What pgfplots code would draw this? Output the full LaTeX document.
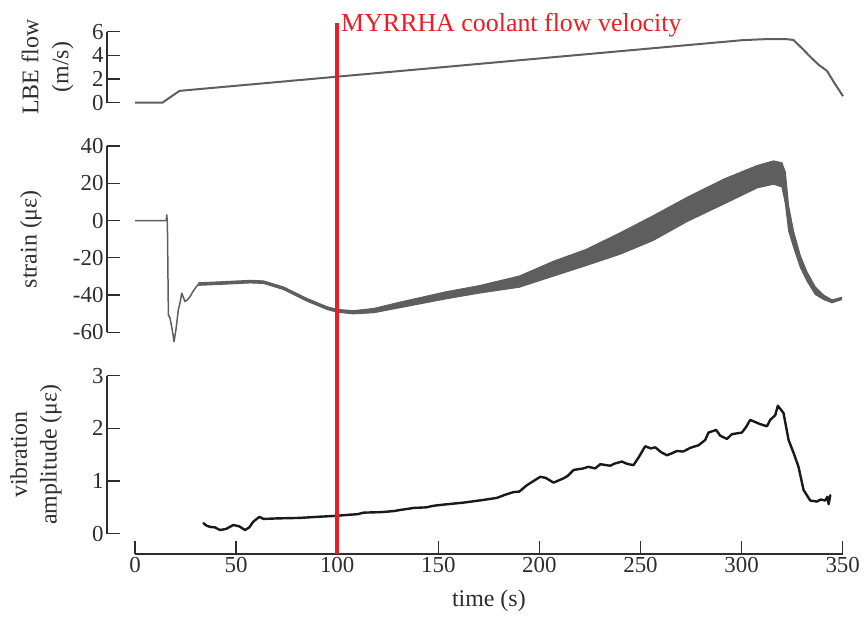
\documentclass[border=0pt]{standalone}
\usepackage{pgfplots}
\pgfplotsset{compat=1.18}
\usepgfplotslibrary{fillbetween}
\usepackage{fontspec}
\setmainfont{Liberation Serif}
\definecolor{lgray}{RGB}{94,94,94}
\definecolor{myred}{RGB}{237,28,36}
\definecolor{axc}{RGB}{45,45,45}
\pgfplotsset{
  panel/.style={scale only axis, width=736bp, xmin=-13.85, xmax=350,
    axis x line=none, axis y line=left,
    axis line style={-, axc, line width=1.4bp},
    tick align=inside, major tick length=13bp,
    tick style={axc, line width=1.4bp},
    clip=false,
    yticklabel style={font=\fontsize{23}{23}\selectfont, text=axc},
    /pgf/number format/assume math mode=true,
    ylabel style={font=\fontsize{24}{30}\selectfont, align=center, text=axc, anchor=center}},
}
\begin{document}
\begin{tikzpicture}[line join=round]
% ---- top panel: LBE flow
\begin{axis}[panel, height=71bp, at={(107bp,516.3bp)}, anchor=south west,
  ymin=0, ymax=6, ytick={0,2,4,6},
  ylabel={LBE flow\\(m/s)}, ylabel style={at={(axis description cs:-0.0808,0.5)}}]
\addplot[lgray, line width=2bp, line join=round] coordinates {
(0,0) (13.5,0) (22,1.0) (100,2.2) (200,3.74) (300,5.28) (310,5.36) (318,5.38)
(322,5.37) (325.5,5.30) (330,4.55) (334,3.85) (338,3.2) (342,2.7) (346,1.6) (350,0.55)};
\end{axis}
% ---- middle panel: strain
\begin{axis}[panel, height=186.3bp, at={(107bp,286.7bp)}, anchor=south west,
  ymin=-60, ymax=40, ytick={-60,-40,-20,0,20,40},
  ylabel={strain (με)}, ylabel style={at={(axis description cs:-0.1033,0.5)}}]
\addplot[lgray, line width=1.5bp, line join=round] coordinates {
(0,0) (15.4,0) (15.7,3) (16.0,-1) (16.5,-50.7) (17.3,-52.4) (18.3,-58) (19.3,-65)
(20.3,-58) (21.4,-48) (22.3,-44) (23.1,-39) (24.0,-41.5) (24.7,-43.5) (26,-42.5)
(27.2,-40.8) (29,-37.5) (31.3,-34.1)};
\addplot[lgray, line width=1bp, line join=round, name path=U] coordinates {
(31.3,-33.4) (40,-33.0) (57,-32.1) (63.5,-32.4) (73.3,-35.6) (85,-41.8) (95,-46.3)
(100,-47.7) (108,-48.4) (118,-47.2) (131,-43.8) (154,-38.2) (170,-35.0) (190,-29.8)
(207,-21.8) (223,-15.5) (240,-6.5) (256,2.5) (273,12.5) (291,22.2) (307.5,29.5)
(315.7,32.0) (319.8,31.0) (321.5,26.0) (323.1,8.0) (325.6,-6.0) (328.9,-18.8)
(332.2,-27.6) (336.3,-35.6) (340.4,-40.0) (344.6,-42.6) (349.5,-41.2)};
\addplot[lgray, line width=1bp, line join=round, name path=L] coordinates {
(31.3,-34.8) (40,-34.4) (57,-33.5) (63.5,-33.8) (73.3,-37.0) (85,-43.3) (95,-47.8)
(100,-49.2) (108,-50.1) (118,-49.5) (131,-46.8) (154,-42.0) (170,-39.0) (190,-35.8)
(207,-29.8) (223,-24.2) (240,-18.0) (256,-10.8) (273,-0.5) (291,8.8) (307.5,17.5)
(315.7,19.5) (319.8,18.0) (321.5,9.0) (323.1,-5.5) (325.6,-14.5) (328.9,-25.2)
(332.2,-32.5) (336.3,-39.7) (340.4,-42.4) (344.6,-44.2) (349.5,-42.4)};
\addplot[lgray] fill between[of=U and L];
\end{axis}
% ---- bottom panel: vibration amplitude
\begin{axis}[panel, height=158bp, at={(107bp,85.3bp)}, anchor=south west,
  ymin=0, ymax=3, ytick={0,1,2,3},
  ylabel={vibration\\amplitude (με)}, ylabel style={at={(axis description cs:-0.0965,0.5)}}]
\addplot[black!90, line width=2.4bp, line join=round, line cap=round] coordinates {
(33.8,0.2) (35.5,0.15) (37.1,0.13) (39.5,0.12) (42,0.07) (45,0.09) (48.6,0.165)
(51.5,0.14) (54.4,0.07) (56.5,0.12) (58.5,0.23) (61.5,0.32) (63.5,0.28) (70,0.29)
(81.6,0.30) (90,0.32) (99.7,0.34) (106,0.36) (110,0.37) (113,0.40) (122,0.41)
(128,0.43) (131,0.45) (138,0.49) (144,0.50) (147.5,0.53) (152,0.55) (162.4,0.59)
(172,0.64) (178.9,0.68) (183,0.74) (187.1,0.79) (190,0.80) (193.7,0.92) (197,1.0)
(200.3,1.08) (203,1.06) (206.9,0.97) (211.8,1.05) (214,1.10) (216.8,1.21)
(221.7,1.24) (224,1.27) (227.5,1.24) (230,1.32) (234.9,1.29) (237,1.33) (240.7,1.37)
(243,1.33) (246.4,1.30) (249,1.45) (252.2,1.66) (255,1.62) (257.2,1.64) (260,1.55)
(262.9,1.49) (265,1.52) (267.9,1.57) (271,1.56) (274.5,1.63) (278.6,1.68)
(281.9,1.78) (283.5,1.92) (287.3,1.97) (289.3,1.86) (292.6,1.80) (295.1,1.89)
(300,1.92) (302,2.02) (304.1,2.16) (309.1,2.08) (312.4,2.04) (314,2.16)
(316.5,2.25) (317.8,2.43) (320.6,2.29) (323.1,1.78) (325.6,1.53) (328,1.27)
(330.5,0.83) (333.8,0.63) (337.1,0.61) (339,0.65) (341.2,0.63) (342.3,0.70)
(342.9,0.56) (343.7,0.73)};
\end{axis}
% ---- shared x axis + reference line
\begin{axis}[scale only axis, width=707.7bp, height=10bp, at={(135bp,65bp)}, anchor=south west,
  xmin=0, xmax=350, ymin=0, ymax=1, axis x line=bottom, axis y line=none,
  axis line style={-, axc, line width=1.4bp},
  tick align=inside, major tick length=13bp, tick style={axc, line width=1.4bp},
  xtick={0,50,...,350}, clip=false,
  xticklabel style={font=\fontsize{23}{23}\selectfont, text=axc},
  /pgf/number format/assume math mode=true,
  xlabel={time (s)},
  xlabel style={font=\fontsize{24}{30}\selectfont, text=axc, at={(axis description cs:0.5,0)}, anchor=base, yshift=-52bp}]
\addplot[myred, line width=4bp] coordinates {(100,0) (100,53.13)};
\node[anchor=base west, inner sep=0pt, text=myred, font=\fontsize{26}{26}\selectfont]
  at (axis cs:101.9,52.2) {MYRRHA coolant flow velocity};
\end{axis}
\pgfresetboundingbox
\useasboundingbox (0,0) rectangle (864bp,619bp);
\end{tikzpicture}
\end{document}
